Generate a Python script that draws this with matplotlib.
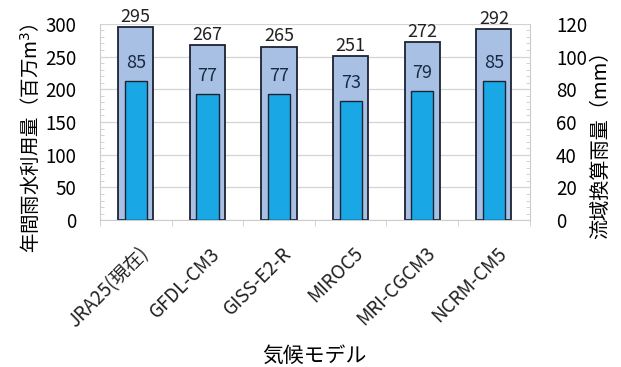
import numpy as np
import matplotlib.pyplot as plt
import matplotlib.transforms as mtransforms

plt.rcParams['font.family'] = ['Noto Sans CJK JP', 'DejaVu Sans']

# Data
models = ['JRA25(現在)', 'GFDL-CM3', 'GISS-E2-R', 'MIROC5', 'MRI-CGCM3', 'NCRM-CM5']
rain_use = [295, 267, 265, 251, 272, 292]   # 百万m3
rain_mm = [85, 77, 77, 73, 79, 85]          # mm

x = np.arange(len(models))

fig, ax = plt.subplots(figsize=(6.21, 3.67), dpi=100)
fig.subplots_adjust(left=0.161, right=0.853, top=0.935, bottom=0.40)

ax.bar(x, rain_use, width=0.49, color='#a8c0e4', edgecolor='#1c2333',
       linewidth=1.3, zorder=2)
for xi, v in zip(x, rain_use):
    ax.text(xi, v + 2, str(v), ha='center', va='bottom', fontsize=13,
            color='#222222')

ax.set_xlim(-0.5, len(models) - 0.5)
ax.set_ylim(0, 300)
ax.set_yticks(np.arange(0, 301, 50))
ax.set_yticks(np.arange(0, 301, 10), minor=True)

# category labels drawn as text, rotated 45 deg and pushed down a bit
ax.set_xticks(x)
ax.set_xticklabels([])
lab_tr = mtransforms.blended_transform_factory(ax.transData, ax.transAxes) + \
    mtransforms.ScaledTranslation(0.02, -0.23, fig.dpi_scale_trans)
for xi, name in zip(x, models):
    ax.text(xi, 0, name, transform=lab_tr, rotation=45, ha='right', va='top',
            rotation_mode='anchor', fontsize=13.5, color='#222222')

ax.set_xticks(np.arange(-0.5, len(models), 1), minor=True)
ax.tick_params(axis='x', which='major', length=0)
ax.tick_params(axis='x', which='minor', length=4, color='#cccccc')
ax.tick_params(axis='y', which='major', labelsize=13.5, length=0, pad=17)
ax.tick_params(axis='y', which='minor', length=3, direction='in',
               color='#cccccc')
ax.set_ylabel('年間雨水利用量（百万m$^3$）', fontsize=14)
ax.yaxis.set_label_coords(-0.135, 0.42)
ax.set_xlabel('気候モデル', fontsize=15)
ax.xaxis.set_label_coords(0.5, -0.635)
ax.grid(axis='y', which='major', color='#d4d4d4', linewidth=0.9, zorder=0)
for s in ['top', 'right']:
    ax.spines[s].set_visible(False)
ax.spines['left'].set_color('#cccccc')
ax.spines['bottom'].set_color('#cccccc')

ax2 = ax.twinx()
ax2.bar(x, rain_mm, width=0.31, color='#1aa7e6', edgecolor='#1c2333',
        linewidth=1.0, zorder=3)
for xi, v in zip(x, rain_mm):
    ax2.text(xi, v + 11, str(v), ha='center', va='center', fontsize=13,
             color='#1a2a45')
ax2.set_ylim(0, 120)
ax2.set_yticks(np.arange(0, 121, 20))
ax2.set_yticks(np.arange(0, 121, 4), minor=True)
ax2.tick_params(axis='y', which='major', labelsize=13.5, length=0, pad=19)
ax2.tick_params(axis='y', which='minor', length=3, direction='in',
                color='#cccccc')
ax2.set_ylabel('流域換算雨量（mm）', fontsize=14.5)
ax2.yaxis.set_label_coords(1.14, 0.41)
for s in ['top', 'left', 'bottom']:
    ax2.spines[s].set_visible(False)
ax2.spines['right'].set_color('#cccccc')

plt.savefig('out.png', dpi=100)
